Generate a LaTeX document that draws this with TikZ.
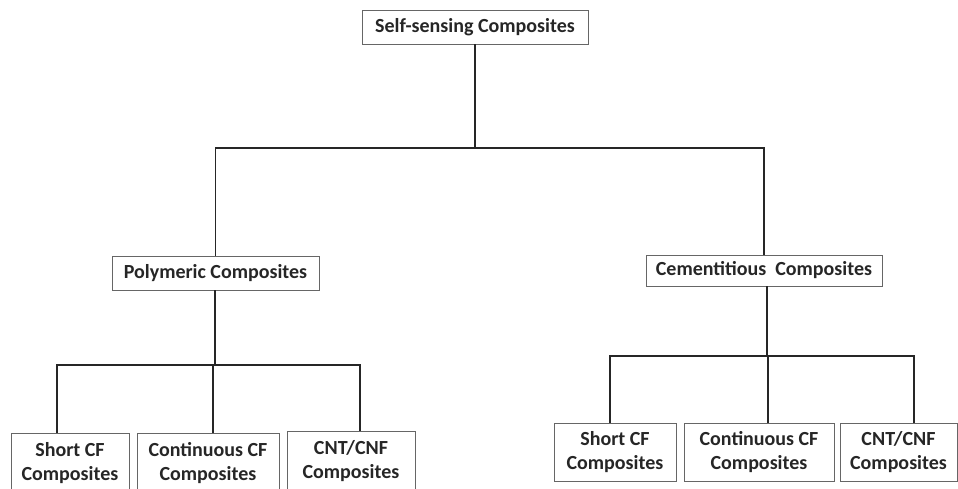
\documentclass[tikz,border=0pt]{standalone}
\usepackage{fontspec}
\setmainfont{Carlito}
\usetikzlibrary{positioning}
\tikzstyle{box} = [rectangle, draw=black!60, line width=0.8pt, inner sep=0pt, align=center, font=\fontsize{20}{23.5}\selectfont\bfseries, text=black!85]
\tikzstyle{leaf} = [box, minimum height=60pt]
\tikzstyle{line} = [line width=1.6pt, draw=black!85]

\begin{document}
\begin{tikzpicture}[x=1pt, y=-1pt]
	            \useasboundingbox (0,0) rectangle (958,488);
	            \node [box, minimum width=226pt, minimum height=34pt] at (475,27) (root) {Self-sensing Composites};
        	    \node [box, minimum width=207pt, minimum height=34pt] at (215.5,273) (poly) {Polymeric Composites};
	            \node [box, minimum width=236pt, minimum height=31pt] at (764,270.5) (cem) {Cementitious\ \ Composites};
        	    \node [leaf, minimum width=118pt] at (70,463) (short1) {Short CF\\Composites};
 	            \node [leaf, minimum width=142pt] at (208,463) (cont1) {Continuous CF\\Composites};
        	    \node [leaf, minimum width=128pt] at (351,461) (cnt1) {CNT/CNF\\Composites};
      	            \node [leaf, minimum width=122pt, minimum height=58pt] at (615,452) (short2) {Short CF\\Composites};
        	    \node [leaf, minimum width=150pt, minimum height=58pt] at (759,452) (cont2) {Continuous CF\\Composites};
        	    \node [leaf, minimum width=117pt, minimum height=58pt] at (898.5,452) (cnt2) {CNT/CNF\\Composites};

	            \coordinate (bus0) at (475,148);
	            \coordinate (bus1) at (215,365);
	            \coordinate (bus2) at (767,356);

  	            \draw [line] (root) -- (bus0);
         	    \draw [line] (bus0) -| (poly);
   	            \draw [line] (bus0) -| (cem);
 	            \draw [line] (poly.south -| bus1) -- (bus1);
                    \draw [line] (bus1) -| ([xshift=-13pt]short1.north);
                    \draw [line] (bus1) -| ([xshift=5pt]cont1.north);
       	            \draw [line] (bus1) -| ([xshift=9pt]cnt1.north);
   	            \draw [line] (cem.south -| bus2) -- (bus2);
                    \draw [line] (bus2) -| ([xshift=-5pt]short2.north);
                    \draw [line] (bus2) -| ([xshift=9pt]cont2.north);
                    \draw [line] (bus2) -| ([xshift=15.5pt]cnt2.north);
                    \end{tikzpicture}
\end{document}
